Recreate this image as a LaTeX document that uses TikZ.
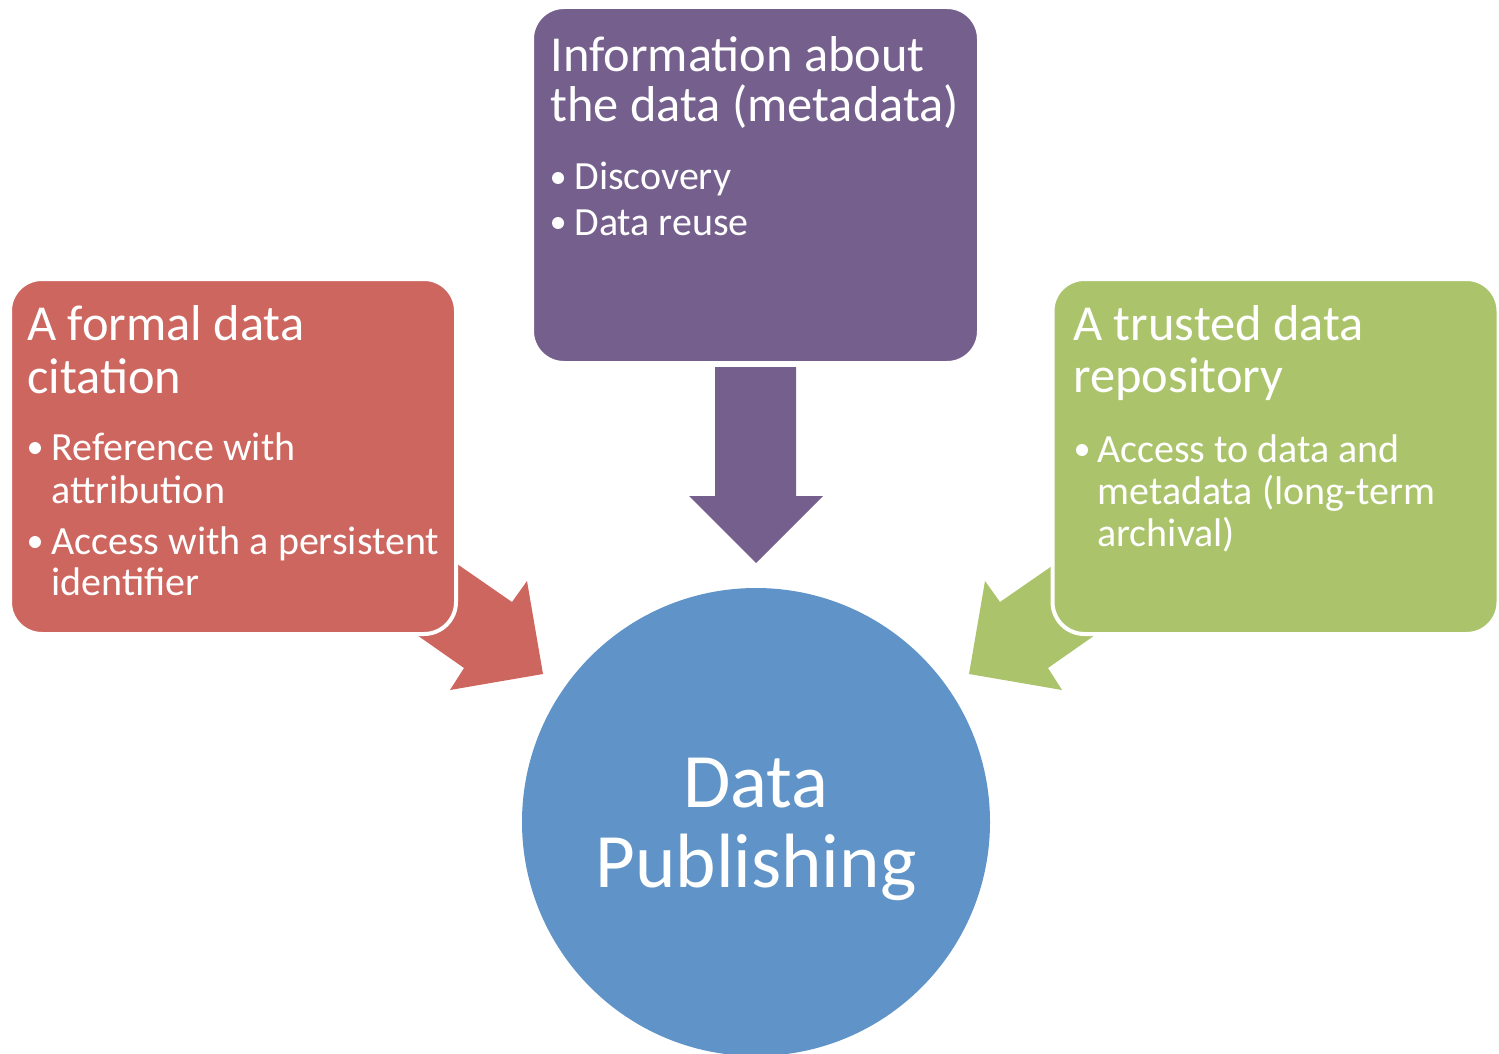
\documentclass[tikz,border=0pt]{standalone}
\usepackage{fontspec}
\setmainfont{Carlito}
\definecolor{cred}{RGB}{205,102,95}
\definecolor{cpurple}{RGB}{117,95,140}
\definecolor{cgreen}{RGB}{171,196,108}
\definecolor{cblue}{RGB}{96,148,200}
\begin{document}
\begin{tikzpicture}[x=0.5pt,y=-0.5pt,
  box/.style={draw=white, line width=2pt, rounded corners=16pt, inner sep=0pt},
  ttl/.style={anchor=base west, inner sep=0pt, text=white, font=\fontsize{25.2}{30}\selectfont},
  itm/.style={anchor=base west, inner sep=0pt, text=white, font=\fontsize{20}{24}\selectfont},
  hub/.style={anchor=base, inner sep=0pt, text=white, font=\fontsize{38.5}{44}\selectfont},
  dot/.style={circle, fill=white, inner sep=0pt, minimum size=6pt}]
\useasboundingbox (0,0) rectangle (1499,1054);
\fill[white] (0,0) rectangle (1499,1054);

% block arrows
\fill[cred] (395,521) -- (512,602) -- (527,581) -- (543,674) -- (450,690) -- (464,668) -- (357,593) -- cycle;
\fill[cgreen] (1117,521) -- (1000,602) -- (985,581) -- (969,674) -- (1062,690) -- (1048,668) -- (1155,593) -- cycle;
\fill[cpurple] (715,367) -- (796,367) -- (796,496) -- (823,496) -- (756,563) -- (689,496) -- (715,496) -- cycle;

% boxes
\node[box, fill=cred, minimum width=223pt, minimum height=177.5pt] (cite) at (233,456.5) {};
\node[box, fill=cpurple, minimum width=223.5pt, minimum height=178pt] (meta) at (755.5,185) {};
\node[box, fill=cgreen, minimum width=223pt, minimum height=177.5pt] (repo) at (1275.5,456.5) {};

% hub
\node[circle, fill=cblue, inner sep=0pt, minimum size=234pt] (hub) at (756,822) {};
\node[hub] (hub1) at (756,807) {Data};
\node[hub] (hub2) at (756,887) {Publishing};

% red texts
\node[ttl] (c1) at (27,340) {A formal data};
\node[ttl] (c2) at (27,393) {citation};
\node[dot] (cd1) at (35,448) {};
\node[itm] (c3) at (51,460) {Reference with};
\node[itm] (c4) at (51,503) {attribution};
\node[dot] (cd2) at (35,542) {};
\node[itm] (c5) at (51,554) {Access with a persistent};
\node[itm] (c6) at (51,595) {identifier};

% purple texts
\node[ttl] (m1) at (550,72) {Information about};
\node[ttl] (m2) at (550,122) {the data (metadata)};
\node[dot] (md1) at (558,178) {};
\node[itm] (m3) at (574,190) {Discovery};
\node[dot] (md2) at (558,223) {};
\node[itm] (m4) at (574,235) {Data reuse};

% green texts
\node[ttl] (r1) at (1073,340) {A trusted data};
\node[ttl] (r2) at (1073,392) {repository};
\node[dot] (rd1) at (1082,450) {};
\node[itm] (r3) at (1097,462) {Access to data and};
\node[itm] (r4) at (1097,504) {metadata (long-term};
\node[itm] (r5) at (1097,546) {archival)};
\end{tikzpicture}
\end{document}
